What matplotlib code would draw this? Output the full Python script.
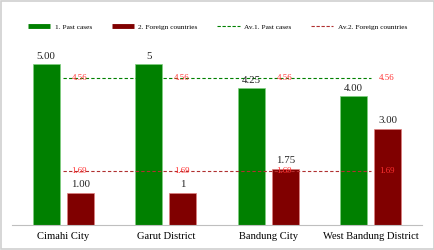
import matplotlib
matplotlib.use("Agg")
import matplotlib.pyplot as plt
import numpy as np
from matplotlib.lines import Line2D
from matplotlib.patches import Rectangle

categories = ["Cimahi City", "Garut District", "Bandung City", "West Bandung District"]
past_cases = [5.00, 5.00, 4.25, 4.00]
foreign = [1.00, 1.00, 1.75, 3.00]
past_labels = ["5.00", "5", "4.25", "4.00"]
foreign_labels = ["1.00", "1", "1.75", "3.00"]
avg_past = [4.56, 4.56, 4.56, 4.56]
avg_foreign = [1.69, 1.69, 1.69, 1.69]
avg_past_labels = ["4.56", "4.56", "4.56", "4.56"]
avg_foreign_labels = ["1.69", "1.69", "1.69", "1.69"]
series_names = ["1. Past cases", "2. Foreign countries", "Av.1. Past cases", "Av.2. Foreign countries"]

GREEN = "#008000"
DRED = "#800000"
font = ["Liberation Serif", "DejaVu Serif"]
plt.rcParams["font.family"] = font

fig = plt.figure(figsize=(4.35, 2.5), dpi=100)
ax = fig.add_axes([12/435, 25/250, 410/435, 180/250])
x = np.arange(len(categories))
w = 0.265
off = 0.166
ax.bar(x - off, past_cases, w, color=GREEN, edgecolor="#7fd07f", linewidth=0.5, zorder=2)
ax.bar(x + off, foreign, w, color=DRED, edgecolor="#e08080", linewidth=0.5, zorder=2)

for xi, v, s in zip(x, past_cases, past_labels):
    ax.annotate(s, (xi - off, v), xytext=(0, 2.5), textcoords="offset points",
                ha="center", va="bottom", fontsize=7.8, color="#222222", zorder=5)
for xi, v, s in zip(x, foreign, foreign_labels):
    ax.annotate(s, (xi + off, v), xytext=(0, 2.5), textcoords="offset points",
                ha="center", va="bottom", fontsize=7.8, color="#222222", zorder=5)

ax.plot(x, avg_past, ls=(0, (3, 2)), color=GREEN, lw=0.8, zorder=3)
ax.plot(x, avg_foreign, ls=(0, (3, 2)), color="#b03030", lw=0.8, zorder=3)
for xi, v, s in zip(x, avg_past, avg_past_labels):
    ax.annotate(s, (xi, v), xytext=(11.5, 0), textcoords="offset points",
                ha="center", va="center", fontsize=6.4, color="#ff3030", zorder=4)
for xi, v, s in zip(x, avg_foreign, avg_foreign_labels):
    ax.annotate(s, (xi, v), xytext=(11.5, 0), textcoords="offset points",
                ha="center", va="center", fontsize=6.4, color="#ff3030", zorder=4)

ax.set_xlim(-0.5, len(categories) - 0.5)
ax.set_ylim(0, 5.6)
ax.set_xticks(x)
ax.set_xticklabels(categories, fontsize=7.6)
ax.tick_params(axis="x", length=0, pad=5)
ax.set_yticks([])
for sp in ["top", "left", "right"]:
    ax.spines[sp].set_visible(False)
ax.spines["bottom"].set_color("#bfbfbf")
ax.spines["bottom"].set_linewidth(0.8)

handles = [
    Line2D([], [], color=GREEN, lw=3.5, solid_capstyle="butt"),
    Line2D([], [], color=DRED, lw=3.5, solid_capstyle="butt"),
    Line2D([], [], color=GREEN, lw=0.8, ls=(0, (3, 1.5))),
    Line2D([], [], color="#b03030", lw=0.8, ls=(0, (3, 1.5))),
]
fig.legend(handles, series_names, loc="center", bbox_to_anchor=(0.5, 1 - 27/250),
           ncol=4, frameon=False, fontsize=5.3, handlelength=3.0, handletextpad=0.6,
           columnspacing=2.7)

fig.patches.append(Rectangle((0.003, 0.004), 0.994, 0.992, transform=fig.transFigure,
                             fill=False, edgecolor="#d0d0d0", lw=1.2))
fig.savefig("out.png", dpi=100)
